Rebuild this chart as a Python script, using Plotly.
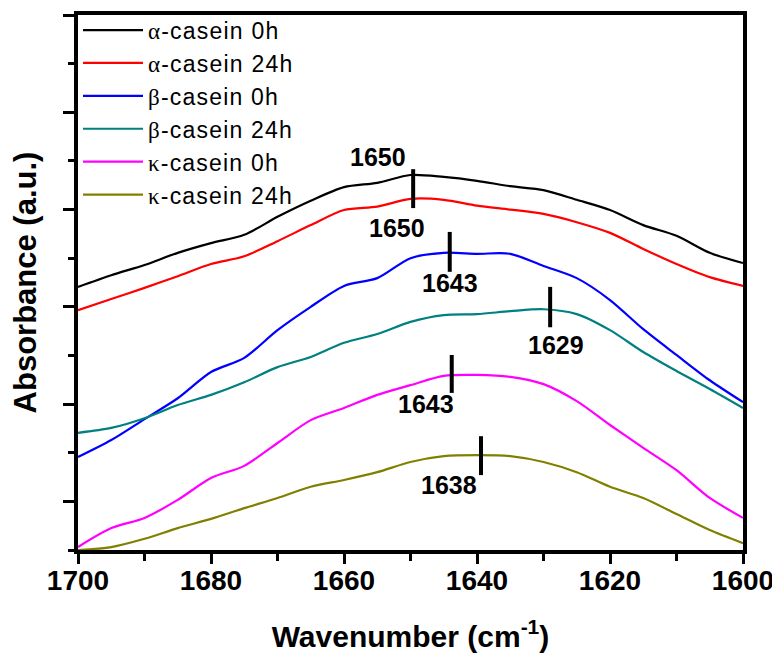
import plotly.graph_objects as go

# ---- data ----
wavenumber = [1700, 1695, 1690, 1685, 1680, 1675, 1670, 1665, 1660, 1655, 1650,
              1645, 1640, 1635, 1630, 1625, 1620, 1615, 1610, 1605, 1600]

alpha_0h = [5.41, 5.65, 5.86, 6.11, 6.31, 6.48, 6.85, 7.18, 7.46, 7.55, 7.71,
            7.67, 7.59, 7.48, 7.40, 7.20, 6.99, 6.68, 6.46, 6.11, 5.90]
alpha_24h = [4.93, 5.16, 5.39, 5.63, 5.88, 6.04, 6.35, 6.68, 6.99, 7.06, 7.22,
             7.20, 7.08, 7.00, 6.91, 6.74, 6.52, 6.19, 5.88, 5.61, 5.43]
beta_0h = [1.91, 2.26, 2.69, 3.12, 3.66, 3.95, 4.52, 5.00, 5.43, 5.59, 6.00,
           6.11, 6.09, 6.09, 5.84, 5.59, 5.14, 4.54, 4.01, 3.49, 3.04]
beta_24h = [2.41, 2.51, 2.71, 2.98, 3.19, 3.45, 3.76, 3.97, 4.26, 4.44, 4.69,
            4.83, 4.85, 4.91, 4.95, 4.85, 4.52, 4.07, 3.68, 3.31, 2.92]
kappa_0h = [0.06, 0.45, 0.66, 1.03, 1.48, 1.73, 2.20, 2.67, 2.92, 3.19, 3.39,
            3.58, 3.60, 3.56, 3.41, 3.06, 2.57, 2.10, 1.64, 1.07, 0.66]
kappa_24h = [0.00, 0.06, 0.23, 0.45, 0.64, 0.86, 1.07, 1.30, 1.44, 1.60, 1.81,
             1.93, 1.95, 1.93, 1.81, 1.60, 1.30, 1.07, 0.74, 0.41, 0.14]

series_names = ["α-casein 0h", "α-casein 24h", "β-casein 0h",
                "β-casein 24h", "κ-casein 0h", "κ-casein 24h"]
series_values = [alpha_0h, alpha_24h, beta_0h, beta_24h, kappa_0h, kappa_24h]
series_colors = ["#000000", "#FF0000", "#0000FF", "#008080", "#FF00FF", "#808000"]

# peak markers: label, wavenumber of bar, bar bottom/top, label position
peak_labels = ["1650", "1650", "1643", "1629", "1643", "1638"]
peak_x = [1649.6, None, 1644.1, 1629.0, 1643.8, 1639.4]
peak_bar_low = [7.03, None, 5.72, 4.58, 3.23, 1.54]
peak_bar_high = [7.83, None, 6.54, 5.41, 4.01, 2.34]
label_x = [1654.9, 1652.0, 1644.1, 1628.1, 1647.7, 1644.2]
label_y = [8.08, 6.62, 5.49, 4.21, 3.00, 1.34]

x_ticks = [1700, 1680, 1660, 1640, 1620, 1600]
y_major_ticks = [1, 3, 5, 7, 9, 11]

FONT = "Liberation Sans, Arial, sans-serif"
SERIF = "Liberation Serif"

fig = go.Figure()
for name, vals, col in zip(series_names, series_values, series_colors):
    greek, rest = name[0], name[1:]
    label = (f'<span style="letter-spacing:1.2px">'
             f'<span style="font-family:{SERIF}">{greek}</span>{rest}</span>')
    fig.add_trace(go.Scatter(
        x=wavenumber, y=vals, mode="lines", name=label,
        line=dict(color=col, width=2.2, shape="spline", smoothing=0.8),
    ))

for px_, lo, hi in zip(peak_x, peak_bar_low, peak_bar_high):
    if px_ is None:
        continue
    fig.add_shape(type="line", xref="x", yref="y", x0=px_, x1=px_, y0=lo, y1=hi,
                  line=dict(color="black", width=4))

for txt, lx, ly in zip(peak_labels, label_x, label_y):
    fig.add_annotation(x=lx, y=ly, xref="x", yref="y", text=f"<b>{txt}</b>",
                       showarrow=False, font=dict(family=FONT, size=25, color="black"))

# the page body adds an 8 px offset, so margins are set to compensate
fig.update_layout(
    width=780, height=663,
    margin=dict(l=70, r=45, t=7, b=121, autoexpand=False),
    paper_bgcolor="white", plot_bgcolor="white",
    font=dict(family=FONT, color="black"),
    legend=dict(x=0.0, y=1.012, xanchor="left", yanchor="top",
                bgcolor="rgba(0,0,0,0)", borderwidth=0,
                font=dict(family=FONT, size=23, color="black"),
                itemwidth=60, tracegroupgap=0),
    showlegend=True,
)

fig.update_xaxes(
    range=[1700, 1600], showgrid=False, zeroline=False, automargin=False,
    showline=True, linewidth=4, linecolor="black", mirror=True,
    ticks="outside", ticklen=10, tickwidth=3, tickcolor="black",
    tickvals=x_ticks, ticktext=[f"<b>{v}</b>" for v in x_ticks],
    tickfont=dict(family=FONT, size=28, color="black"),
    ticklabelstandoff=-8,
    minor=dict(ticks="outside", ticklen=7, tickwidth=3, tickcolor="black", dtick=10, tick0=1600),
    title=dict(text="<b>Wavenumber (cm<sup>-1</sup>)</b>", standoff=32,
               font=dict(family=FONT, size=30, color="black")),
)
fig.update_yaxes(
    range=[0, 11], showgrid=False, zeroline=False, automargin=False,
    showline=True, linewidth=4, linecolor="black", mirror=True,
    ticks="outside", ticklen=11, tickwidth=3, tickcolor="black",
    tickvals=y_major_ticks, showticklabels=False,
    minor=dict(ticks="outside", ticklen=6, tickwidth=3, tickcolor="black", dtick=1, tick0=0),
    title=dict(text="<b>Absorbance (a.u.)</b>", standoff=25,
               font=dict(family=FONT, size=31, color="black")),
)

fig.write_html("out.html")
